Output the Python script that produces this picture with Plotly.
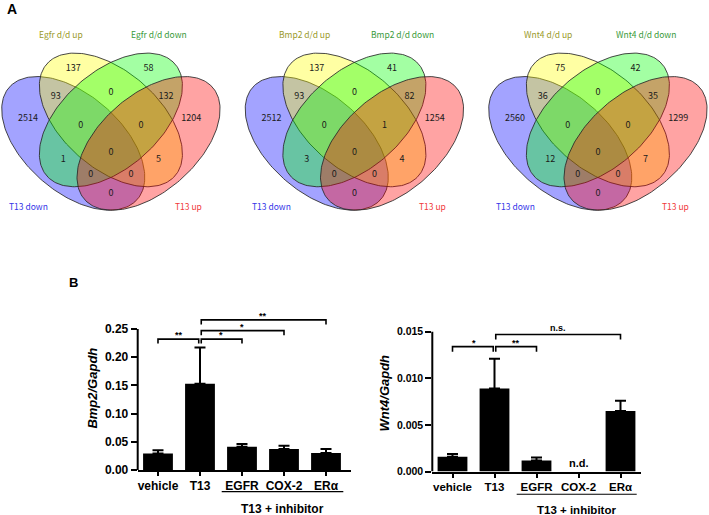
import numpy as np
import plotly.graph_objects as go

# ---------------- data ----------------
venn_genes = ["Egfr", "Bmp2", "Wnt4"]
# regions: Y, G, B&Y, Y&G, G&R, B, B&Y&G, Y&G&R, R, B&G, all, Y&R, lower-left, lower-right, B&R
egfr_counts = [137, 58, 93, 0, 132, 2514, 0, 0, 1204, 1, 0, 5, 0, 0, 0]
bmp2_counts = [137, 41, 93, 0, 82, 2512, 0, 1, 1254, 3, 0, 4, 0, 0, 0]
wnt4_counts = [75, 42, 36, 0, 35, 2560, 0, 0, 1299, 12, 0, 7, 0, 0, 0]

categories = ["vehicle", "T13", "EGFR", "COX-2", "ERα"]
bmp2_mean = [0.029, 0.153, 0.041, 0.037, 0.030]
bmp2_sem = [0.006, 0.064, 0.005, 0.006, 0.007]
wnt4_mean = [0.0016, 0.0089, 0.0012, None, 0.0065]
wnt4_sem = [0.0003, 0.0032, 0.0003, None, 0.0011]

# comparisons: (from, to, height, label)
bmp2_sig = [(0, 1, 0.232, "**"), (1, 2, 0.232, "*"), (1, 3, 0.247, "*"), (1, 4, 0.266, "**")]
wnt4_sig = [(0, 1, 0.0134, "*"), (1, 2, 0.0134, "**"), (1, 4, 0.0147, "n.s.")]

# ---------------- layout helpers ----------------
W, H = 709, 515      # reference frame used for placement (fractions of it)
FIG_H = 523          # actual figure height
# ellipse geometry in the unit venn frame (cx, cy, a, b, angle, colour)
ELLIPSES = [
    (0.35, 0.47, 0.35, 0.2, 135, "0,0,255"),    # T13 down
    (0.50, 0.57, 0.35, 0.2, 135, "255,255,0"),  # d/d up
    (0.50, 0.57, 0.35, 0.2, 45, "0,255,0"),     # d/d down
    (0.65, 0.47, 0.35, 0.2, 45, "255,0,0"),     # T13 up
]
REGION_XY = [(0.35, 0.79), (0.65, 0.79), (0.28, 0.67), (0.50, 0.685), (0.72, 0.67),
             (0.17, 0.575), (0.38, 0.545), (0.62, 0.545), (0.82, 0.575),
             (0.31, 0.40), (0.50, 0.43), (0.69, 0.40), (0.42, 0.338), (0.58, 0.338), (0.50, 0.257)]
VENN_X0 = [0, 243.5, 487]
VENN_W = 222
VX_RANGE = [0.0582, 0.0582 + VENN_W / 251]
VY_RANGE = [1.0815 - 230 / 234, 1.0815]

fig = go.Figure()
layout_axes = {}
annotations = []
shapes = []
vfont = "Noto Sans CJK JP"

t = np.linspace(0, 2 * np.pi, 200)
for k, (gene, counts) in enumerate(zip(venn_genes, [egfr_counts, bmp2_counts, wnt4_counts])):
    n = "" if k == 0 else str(k + 1)
    xa, ya = "x" + n, "y" + n
    for cx, cy, a, b, ang, col in ELLIPSES:
        th = np.radians(ang)
        ex = cx + a * np.cos(t) * np.cos(th) - b * np.sin(t) * np.sin(th)
        ey = cy + a * np.cos(t) * np.sin(th) + b * np.sin(t) * np.cos(th)
        fig.add_trace(go.Scatter(x=ex, y=ey, mode="lines", fill="toself",
                                 fillcolor=f"rgba({col},0.36)",
                                 line=dict(color="rgba(40,40,40,0.85)", width=1),
                                 hoverinfo="skip", showlegend=False, xaxis=xa, yaxis=ya))
    fig.add_trace(go.Scatter(x=[p[0] for p in REGION_XY], y=[p[1] for p in REGION_XY],
                             mode="text", text=[str(c) for c in counts],
                             textfont=dict(family=vfont, size=9, color="#1a1a1a"),
                             hoverinfo="skip", showlegend=False, xaxis=xa, yaxis=ya))
    set_labels = [(0.30, 0.936, f"{gene} d/d up", "#9a9a2a"),
                  (0.69, 0.936, f"{gene} d/d down", "#3a9a3a"),
                  (0.17, 0.205, "T13 down", "#3535e8"),
                  (0.81, 0.205, "T13 up", "#f03a3a")]
    for lx, ly, txt, col in set_labels:
        annotations.append(dict(x=lx, y=ly, xref=xa, yref=ya, text=txt, showarrow=False,
                                xanchor="center", yanchor="middle",
                                font=dict(family=vfont, size=8.5, color=col)))
    x0 = VENN_X0[k] / W
    x1 = min((VENN_X0[k] + VENN_W) / W, 1)
    layout_axes["xaxis" + n] = dict(domain=[x0, x1], range=VX_RANGE, visible=False, anchor=ya)
    layout_axes["yaxis" + n] = dict(domain=[1 - 230 / H, 1], range=VY_RANGE, visible=False, anchor=xa)

# ---------------- bar charts ----------------
bfont = "Liberation Sans"
xi = list(range(len(categories)))
panels = [
    dict(n="4", mean=bmp2_mean, sem=bmp2_sem, sig=bmp2_sig, title="Bmp2/Gapdh",
         xdom=[137.7 / W, 350.7 / W], xr=[-0.483, 4.588], y0px=469, ytop=0.29, yunit=0.25 / 140.7,
         ticks=[0, 0.05, 0.10, 0.15, 0.20, 0.25], fmt="{:.2f}", ymax=0.25, tfs=12, xfs=12,
         drop=0.008, line_px=(1.517, 4.412, 490.7), lab_px=507.7),
    dict(n="5", mean=wnt4_mean, sem=wnt4_sem, sig=wnt4_sig, title="Wnt4/Gapdh",
         xdom=[432.3 / W, 640.7 / W], xr=[-0.481, 4.481], y0px=470.7, ytop=0.0168, yunit=0.015 / 139.7,
         ticks=[0, 0.005, 0.010, 0.015], fmt="{:.3f}", ymax=0.015, tfs=10.5, xfs=11.5,
         drop=0.00055, line_px=(1.528, 4.386, 493.3), lab_px=509.3),
]
for p in panels:
    xa, ya = "x" + p["n"], "y" + p["n"]
    err = [s if s is not None else 0 for s in p["sem"]]
    fig.add_trace(go.Bar(x=xi, y=p["mean"], width=0.71, marker=dict(color="black", line=dict(width=0)),
                         error_y=dict(type="data", array=err, arrayminus=[0] * len(err), symmetric=False,
                                      color="black", thickness=2, width=5.5),
                         hoverinfo="skip", showlegend=False, xaxis=xa, yaxis=ya))
    for a, b, h, lab in p["sig"]:
        xa0 = a + (0.03 if a == 1 else 0)
        xb0 = b - (0.03 if b == 1 else 0)
        fig.add_trace(go.Scatter(x=[xa0, xa0, xb0, xb0], y=[h - p["drop"], h, h, h - p["drop"]],
                                 mode="lines", line=dict(color="black", width=1.6),
                                 hoverinfo="skip", showlegend=False, xaxis=xa, yaxis=ya))
        annotations.append(dict(x=(a + b) / 2, y=h, xref=xa, yref=ya, text=lab, showarrow=False,
                                xanchor="center", yanchor="bottom", yshift=-3 if "*" in lab else -1,
                                font=dict(family=bfont, size=9, color="black", weight="bold")))
    # y axis line only up to the last tick
    shapes.append(dict(type="line", xref=xa + " domain", yref=ya, x0=0, x1=0, y0=0, y1=p["ymax"],
                       line=dict(color="black", width=2)))
    # "T13 + inhibitor" grouping line
    lx0, lx1, lpy = p["line_px"]
    shapes.append(dict(type="line", xref=xa, yref="paper", x0=lx0, x1=lx1, y0=1 - lpy / H, y1=1 - lpy / H,
                       line=dict(color="black", width=1.2)))
    annotations.append(dict(x=(lx0 + lx1) / 2, y=1 - p["lab_px"] / H, xref=xa, yref="paper",
                            text="T13 + inhibitor", showarrow=False, xanchor="center", yanchor="middle",
                            font=dict(family=bfont, size=p["xfs"], color="black", weight="bold")))
    ybot = 1 - p["y0px"] / H
    ytopp = ybot + p["ytop"] / p["yunit"] / H
    layout_axes["xaxis" + p["n"]] = dict(
        domain=p["xdom"], range=p["xr"], anchor=ya, showline=True, linecolor="black", linewidth=2,
        tickvals=xi, ticktext=categories, ticks="outside", ticklen=4, tickwidth=1.5, tickcolor="black",
        tickfont=dict(family=bfont, size=p["xfs"], color="black", weight="bold"),
        showgrid=False, zeroline=False, fixedrange=True)
    layout_axes["yaxis" + p["n"]] = dict(
        domain=[ybot, ytopp], range=[0, p["ytop"]], anchor=xa, showline=False,
        tickvals=p["ticks"], ticktext=[p["fmt"].format(v) for v in p["ticks"]],
        ticks="outside", ticklen=6, tickwidth=2, tickcolor="black",
        tickfont=dict(family=bfont, size=p["tfs"], color="black", weight="bold"),
        title=dict(text=f"<i>{p['title']}</i>", standoff=4,
                   font=dict(family=bfont, size=13, color="black", weight="bold")),
        showgrid=False, zeroline=False, fixedrange=True)

annotations.append(dict(x=11.7 / W, y=1 - 9.3 / H, xref="paper", yref="paper", text="A", showarrow=False,
                        xanchor="center", yanchor="middle",
                        font=dict(family=bfont, size=14, color="black", weight="bold")))
annotations.append(dict(x=73 / W, y=1 - 282 / H, xref="paper", yref="paper", text="B", showarrow=False,
                        xanchor="center", yanchor="middle",
                        font=dict(family=bfont, size=13, color="black", weight="bold")))
annotations.append(dict(x=3, y=0, xref="x5", yref="y5", text="n.d.", showarrow=False,
                        xanchor="center", yanchor="bottom", yshift=1,
                        font=dict(family=bfont, size=11, color="black", weight="bold")))

fig.update_layout(width=W, height=FIG_H, margin=dict(l=0, r=0, t=0, b=0),
                  paper_bgcolor="white", plot_bgcolor="rgba(0,0,0,0)",
                  annotations=annotations, shapes=shapes, bargap=0.29, **layout_axes)

# pin the page to exactly the figure size (no default body margin, no scrolling)
page_css = ("var s=document.createElement('style');"
            "s.textContent='html,body{margin:0;padding:0;overflow:hidden;}';"
            "document.head.appendChild(s);")
fig.write_html("out.html", config={"displayModeBar": False}, post_script=page_css)
